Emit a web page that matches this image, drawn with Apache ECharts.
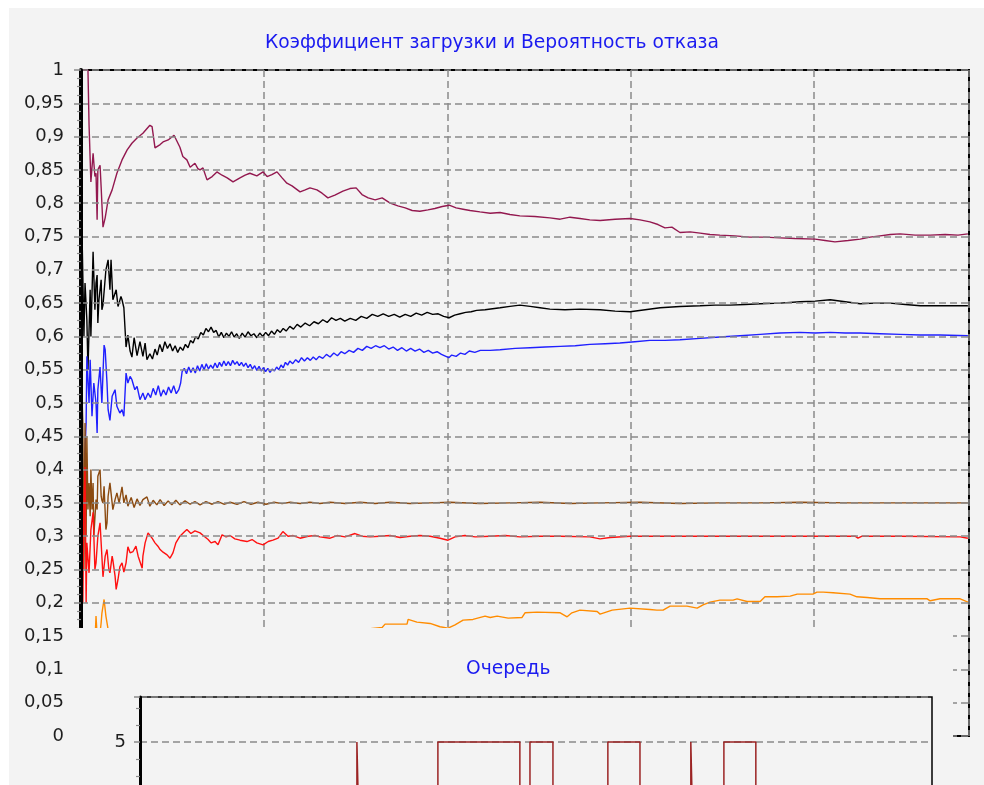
<!DOCTYPE html>
<html>
<head>
<meta charset="utf-8">
<script src="https://cdn.jsdelivr.net/npm/echarts@6/dist/echarts.min.js"></script>
<style>
html,body{margin:0;padding:0;background:#fff;}
#c{width:984px;height:785px;}
</style>
</head>
<body>
<div id="c"></div>
<script>
// ---- data (time, value) ----
const timeMax = 2424;

const seriesMaroon = [[3,1.0],[19,1.0],[22,0.917],[27,0.832],[33,0.875],[38,0.84],[41,0.845],[44,0.775],[46,0.85],[52,0.857],[55,0.824],[60,0.764],[66,0.778],[74,0.805],[85,0.82],[98,0.845],[112,0.865],[126,0.88],[139,0.89],[153,0.898],[169,0.905],[188,0.917],[194,0.915],[202,0.883],[216,0.888],[224,0.892],[238,0.895],[254,0.902],[262,0.893],[270,0.884],[278,0.87],[289,0.865],[298,0.854],[311,0.86],[319,0.852],[325,0.85],[333,0.853],[344,0.835],[358,0.84],[371,0.847],[385,0.842],[399,0.838],[415,0.832],[434,0.838],[448,0.842],[461,0.845],[480,0.841],[497,0.847],[508,0.84],[521,0.843],[535,0.847],[549,0.838],[562,0.83],[576,0.826],[598,0.817],[612,0.82],[625,0.823],[644,0.82],[658,0.815],[674,0.808],[693,0.812],[715,0.818],[734,0.822],[751,0.823],[767,0.813],[784,0.808],[803,0.805],[822,0.808],[844,0.8],[865,0.796],[885,0.793],[904,0.789],[925,0.788],[947,0.79],[966,0.792],[986,0.795],[1005,0.797],[1024,0.793],[1043,0.791],[1062,0.789],[1089,0.787],[1117,0.785],[1144,0.786],[1171,0.783],[1198,0.781],[1239,0.78],[1280,0.778],[1308,0.776],[1335,0.779],[1362,0.777],[1389,0.775],[1417,0.774],[1458,0.776],[1499,0.777],[1526,0.775],[1553,0.772],[1575,0.768],[1594,0.763],[1613,0.764],[1635,0.756],[1663,0.757],[1690,0.755],[1717,0.753],[1744,0.752],[1785,0.751],[1826,0.749],[1867,0.749],[1908,0.748],[1949,0.747],[2004,0.746],[2031,0.744],[2058,0.742],[2094,0.744],[2127,0.746],[2154,0.749],[2181,0.751],[2209,0.753],[2236,0.754],[2277,0.752],[2318,0.752],[2359,0.753],[2394,0.752],[2421,0.754]];

const seriesBlack = [[0,0.5],[3,0.75],[8,0.6],[11,0.68],[16,0.625],[19,0.55],[25,0.67],[27,0.6],[33,0.727],[38,0.64],[41,0.68],[44,0.692],[46,0.62],[49,0.655],[55,0.685],[57,0.64],[60,0.647],[68,0.7],[74,0.715],[79,0.67],[82,0.715],[87,0.655],[96,0.67],[101,0.645],[104,0.65],[109,0.66],[112,0.655],[117,0.643],[123,0.584],[128,0.602],[134,0.578],[139,0.569],[145,0.598],[153,0.571],[161,0.592],[169,0.57],[175,0.59],[180,0.565],[188,0.574],[195,0.566],[202,0.581],[208,0.572],[215,0.588],[222,0.577],[229,0.592],[236,0.582],[243,0.589],[250,0.578],[257,0.586],[264,0.576],[271,0.584],[278,0.579],[285,0.588],[292,0.583],[299,0.594],[306,0.59],[313,0.6],[320,0.596],[327,0.606],[334,0.602],[341,0.612],[348,0.607],[355,0.614],[362,0.606],[369,0.609],[376,0.599],[383,0.606],[390,0.598],[397,0.605],[404,0.6],[411,0.607],[418,0.599],[425,0.604],[432,0.597],[440,0.605],[448,0.599],[456,0.607],[464,0.601],[472,0.604],[480,0.598],[488,0.605],[496,0.6],[504,0.606],[512,0.601],[520,0.608],[528,0.603],[536,0.61],[544,0.606],[552,0.612],[560,0.608],[570,0.615],[580,0.611],[590,0.618],[600,0.614],[612,0.62],[624,0.616],[636,0.622],[648,0.619],[660,0.625],[672,0.621],[684,0.628],[696,0.624],[708,0.627],[720,0.623],[735,0.627],[750,0.624],[765,0.63],[780,0.627],[795,0.633],[810,0.63],[825,0.634],[840,0.63],[855,0.633],[870,0.629],[885,0.633],[900,0.63],[915,0.635],[930,0.632],[945,0.636],[960,0.633],[975,0.634],[990,0.63],[1005,0.628],[1020,0.632],[1035,0.634],[1050,0.636],[1065,0.637],[1080,0.639],[1103,0.64],[1144,0.643],[1171,0.645],[1198,0.647],[1226,0.645],[1253,0.643],[1280,0.641],[1321,0.64],[1362,0.641],[1417,0.64],[1458,0.638],[1499,0.637],[1540,0.64],[1581,0.643],[1635,0.645],[1690,0.646],[1731,0.647],[1772,0.647],[1813,0.648],[1854,0.649],[1908,0.65],[1963,0.652],[2004,0.653],[2045,0.655],[2086,0.652],[2127,0.649],[2168,0.65],[2209,0.65],[2250,0.648],[2291,0.646],[2331,0.646],[2372,0.646],[2421,0.646]];

const seriesBlue = [[0,0.2],[3,0.25],[8,0.39],[14,0.47],[16,0.57],[22,0.5],[25,0.565],[30,0.48],[35,0.53],[41,0.5],[44,0.455],[46,0.52],[52,0.554],[57,0.5],[63,0.587],[66,0.58],[71,0.53],[74,0.49],[79,0.474],[85,0.51],[93,0.52],[98,0.495],[106,0.485],[112,0.49],[117,0.48],[123,0.545],[128,0.53],[134,0.54],[139,0.535],[147,0.52],[153,0.525],[161,0.505],[169,0.515],[175,0.505],[183,0.515],[190,0.508],[197,0.522],[204,0.512],[211,0.526],[218,0.51],[225,0.52],[232,0.512],[239,0.524],[246,0.515],[253,0.526],[260,0.514],[267,0.52],[272,0.53],[276,0.547],[282,0.552],[288,0.544],[294,0.554],[300,0.546],[306,0.553],[312,0.545],[318,0.556],[324,0.548],[330,0.558],[336,0.55],[342,0.559],[348,0.551],[354,0.557],[360,0.552],[366,0.56],[372,0.553],[378,0.561],[384,0.555],[390,0.563],[396,0.556],[402,0.562],[408,0.556],[414,0.564],[420,0.558],[426,0.562],[432,0.556],[438,0.561],[444,0.555],[450,0.56],[456,0.553],[462,0.558],[468,0.551],[474,0.556],[480,0.549],[486,0.555],[492,0.548],[498,0.553],[504,0.547],[510,0.552],[516,0.546],[522,0.551],[528,0.548],[534,0.554],[540,0.55],[546,0.557],[552,0.553],[558,0.561],[564,0.557],[570,0.563],[578,0.559],[586,0.565],[594,0.561],[602,0.568],[610,0.563],[618,0.568],[626,0.564],[634,0.569],[642,0.565],[650,0.57],[660,0.567],[670,0.573],[680,0.569],[690,0.575],[700,0.571],[710,0.577],[720,0.574],[732,0.579],[744,0.576],[756,0.582],[768,0.579],[780,0.585],[792,0.582],[804,0.586],[816,0.583],[828,0.586],[840,0.581],[852,0.584],[864,0.579],[876,0.583],[888,0.578],[900,0.582],[912,0.578],[924,0.581],[936,0.576],[948,0.579],[960,0.575],[972,0.577],[984,0.573],[996,0.57],[1004,0.568],[1012,0.572],[1024,0.57],[1036,0.575],[1048,0.573],[1060,0.578],[1075,0.576],[1090,0.579],[1117,0.579],[1144,0.58],[1185,0.582],[1226,0.583],[1267,0.584],[1308,0.585],[1349,0.586],[1389,0.588],[1431,0.589],[1471,0.59],[1512,0.592],[1553,0.594],[1594,0.594],[1635,0.595],[1690,0.597],[1744,0.599],[1799,0.601],[1854,0.603],[1908,0.605],[1963,0.606],[2004,0.605],[2045,0.606],[2086,0.605],[2127,0.605],[2181,0.604],[2236,0.603],[2291,0.602],[2345,0.602],[2421,0.601]];

const seriesBrown = [[0,0.71],[3,0.505],[5,0.47],[8,0.25],[11,0.47],[14,0.3],[16,0.45],[19,0.34],[22,0.38],[25,0.33],[27,0.4],[30,0.34],[33,0.38],[35,0.3],[41,0.355],[44,0.34],[46,0.39],[52,0.4],[55,0.36],[57,0.354],[60,0.35],[63,0.375],[68,0.31],[71,0.32],[74,0.36],[79,0.38],[82,0.377],[87,0.34],[93,0.355],[98,0.365],[104,0.35],[112,0.374],[117,0.35],[123,0.362],[128,0.345],[137,0.358],[145,0.343],[153,0.356],[161,0.346],[169,0.355],[180,0.359],[188,0.345],[197,0.354],[207,0.347],[216,0.355],[227,0.346],[238,0.353],[248,0.347],[259,0.354],[270,0.347],[284,0.353],[298,0.348],[311,0.352],[325,0.347],[341,0.352],[358,0.348],[374,0.352],[390,0.348],[407,0.351],[426,0.348],[445,0.352],[464,0.348],[483,0.351],[505,0.348],[527,0.351],[549,0.349],[571,0.351],[598,0.349],[625,0.351],[652,0.349],[680,0.351],[721,0.349],[762,0.351],[803,0.349],[844,0.351],[898,0.349],[953,0.35],[1007,0.351],[1089,0.349],[1171,0.35],[1253,0.351],[1335,0.349],[1417,0.35],[1526,0.351],[1635,0.349],[1744,0.35],[1854,0.35],[1963,0.351],[2099,0.35],[2236,0.35],[2421,0.35]];

const seriesRed = [[0,0.0],[3,0.41],[5,0.2],[8,0.35],[11,0.404],[14,0.2],[16,0.29],[22,0.245],[27,0.31],[33,0.336],[38,0.25],[41,0.26],[46,0.3],[52,0.32],[57,0.27],[60,0.239],[66,0.27],[71,0.28],[76,0.25],[79,0.245],[85,0.27],[87,0.264],[93,0.24],[96,0.22],[101,0.235],[106,0.254],[112,0.26],[117,0.246],[123,0.26],[128,0.284],[134,0.275],[142,0.277],[150,0.285],[156,0.27],[161,0.272],[167,0.252],[169,0.27],[175,0.29],[183,0.305],[188,0.307],[194,0.297],[202,0.29],[210,0.285],[216,0.28],[224,0.276],[235,0.272],[243,0.267],[251,0.275],[259,0.29],[270,0.3],[281,0.306],[289,0.31],[300,0.304],[311,0.308],[325,0.305],[336,0.3],[347,0.295],[355,0.29],[366,0.292],[374,0.287],[385,0.302],[396,0.299],[407,0.301],[420,0.296],[434,0.294],[453,0.292],[467,0.295],[480,0.29],[497,0.287],[511,0.292],[524,0.294],[538,0.297],[551,0.307],[565,0.3],[579,0.301],[598,0.297],[620,0.3],[639,0.301],[652,0.299],[680,0.297],[699,0.301],[721,0.299],[748,0.304],[767,0.3],[789,0.299],[816,0.3],[844,0.301],[871,0.298],[898,0.3],[925,0.301],[953,0.3],[980,0.297],[1002,0.294],[1021,0.299],[1048,0.301],[1076,0.299],[1117,0.3],[1158,0.301],[1198,0.299],[1253,0.3],[1308,0.3],[1389,0.299],[1417,0.296],[1444,0.298],[1499,0.3],[1581,0.3],[1663,0.3],[1744,0.3],[1854,0.3],[1963,0.3],[2113,0.3],[2121,0.297],[2132,0.3],[2236,0.3],[2400,0.299],[2405,0.297],[2421,0.297]];

const seriesOrange = [[25,0.05],[33,0.1],[38,0.14],[41,0.18],[44,0.15],[49,0.14],[55,0.17],[57,0.184],[63,0.205],[68,0.18],[74,0.16],[82,0.13],[134,0.12],[325,0.13],[598,0.15],[822,0.163],[824,0.164],[830,0.168],[890,0.168],[893,0.175],[917,0.171],[953,0.169],[980,0.164],[1002,0.162],[1021,0.167],[1043,0.174],[1070,0.175],[1103,0.18],[1117,0.178],[1136,0.18],[1166,0.177],[1204,0.178],[1212,0.185],[1245,0.186],[1308,0.185],[1327,0.179],[1340,0.185],[1362,0.189],[1409,0.187],[1417,0.183],[1450,0.189],[1499,0.192],[1553,0.19],[1572,0.189],[1589,0.189],[1608,0.195],[1654,0.195],[1682,0.192],[1698,0.197],[1717,0.201],[1744,0.204],[1780,0.204],[1791,0.206],[1818,0.202],[1854,0.202],[1867,0.209],[1900,0.209],[1936,0.21],[1955,0.213],[1998,0.213],[2009,0.216],[2026,0.216],[2053,0.215],[2099,0.213],[2118,0.209],[2146,0.208],[2181,0.206],[2310,0.206],[2318,0.203],[2345,0.206],[2400,0.206],[2421,0.201]];

// queue chart: [time, queue length] change points
const queueMax = 4860;
const queueData = [[0,0],[1331,5],[1343,0],[1828,5],[2331,0],[2393,5],[2534,0],[2871,5],[3068,0],[3380,5],[3392,0],[3583,5],[3779,0],[4860,0]];
const queueGridT = [675, 1675, 2675, 3675, 4675];
const queueTickLabels = [5];

const titleMain = 'Коэффициент загрузки и Вероятность отказа';
const titleQueue = 'Очередь';

// ---- styles ----
const BG = '#f3f3f3';
const GRIDC = '#8a8a8a';
const FONT = 'DejaVu Sans';
const dash = [7, 4];

function fmt(v) { return String(Number(v.toFixed(2))).replace('.', ','); }

function lineSeries(name, data, color) {
  return { name, type: 'line', xAxisIndex: 0, yAxisIndex: 0, data, showSymbol: false, symbol: 'none',
    lineStyle: { color, width: 1.4 }, itemStyle: { color }, animation: false, z: 2 };
}

const chart = echarts.init(document.getElementById('c'), null, { renderer: 'canvas' });
chart.setOption({
  backgroundColor: BG,
  animation: false,
  title: [
    { text: titleMain, left: 'center', top: 34, padding: 0,
      textStyle: { color: '#1a1af0', fontFamily: FONT, fontSize: 18.7, fontWeight: 'normal' } },
    { text: titleQueue, left: 466, top: 660, padding: 0, z: 60,
      textStyle: { color: '#1a1af0', fontFamily: FONT, fontSize: 18.7, fontWeight: 'normal' } }
  ],
  grid: [
    { left: 81, top: 70, width: 888, height: 666, show: true, borderColor: '#000', borderWidth: 2, backgroundColor: 'transparent' },
    { left: 140, top: 697, width: 792, height: 130, show: true, borderColor: '#000', borderWidth: 1.5, backgroundColor: 'transparent', z: 55, outerBoundsMode: 'none' }
  ],
  xAxis: [
    { type: 'value', gridIndex: 0, min: 0, max: timeMax, interval: 500,
      axisLine: { show: false }, axisTick: { show: false }, axisLabel: { show: false },
      splitLine: { show: true, lineStyle: { color: GRIDC, width: 1.5, type: dash } } },
    { type: 'value', gridIndex: 1, min: 0, max: queueMax, z: 60,
      axisLine: { show: false }, axisTick: { show: false }, axisLabel: { show: false },
      splitLine: { show: false } }
  ],
  yAxis: [
    { type: 'value', gridIndex: 0, min: 0, max: 1, interval: 0.05, z: 3,
      axisLine: { show: true, lineStyle: { color: '#000', width: 4 } },
      axisTick: { show: true, length: 7, lineStyle: { color: GRIDC, width: 1.5 } },
      minorTick: { show: true, splitNumber: 4, length: 4, lineStyle: { color: GRIDC, width: 1.2 } },
      axisLabel: { color: '#1e1e1e', fontFamily: FONT, fontSize: 18, margin: 17, formatter: fmt },
      splitLine: { show: true, lineStyle: { color: GRIDC, width: 1.5, type: dash } } },
    { type: 'value', gridIndex: 1, min: 0, max: 7.65, interval: 5, z: 60,
      axisLine: { show: true, lineStyle: { color: '#000', width: 3 } },
      axisTick: { show: true, length: 6, lineStyle: { color: GRIDC, width: 1.5 } },
      minorTick: { show: true, splitNumber: 5, length: 4, lineStyle: { color: GRIDC, width: 1.2 } },
      axisLabel: { color: '#1e1e1e', fontFamily: FONT, fontSize: 18, margin: 14,
        formatter: v => queueTickLabels.indexOf(v) >= 0 ? String(v) : '' },
      splitLine: { show: true, lineStyle: { color: GRIDC, width: 1.5, type: dash } } }
  ],
  graphic: [
    { type: 'rect', z: 50, silent: true, shape: { x: 74, y: 628, width: 879, height: 160 }, style: { fill: BG } },
    { type: 'rect', z: 100, silent: true, shape: { x: 0, y: 0, width: 984, height: 8 }, style: { fill: '#ffffff' } },
    { type: 'rect', z: 100, silent: true, shape: { x: 0, y: 0, width: 9, height: 785 }, style: { fill: '#ffffff' } }
  ],
  series: [
    lineSeries('Коэффициент загрузки 1', seriesMaroon, '#93184f'),
    lineSeries('Коэффициент загрузки 2', seriesBlack, '#000000'),
    lineSeries('Коэффициент загрузки 3', seriesBlue, '#2020ff'),
    lineSeries('Вероятность отказа 1', seriesBrown, '#8b4a10'),
    lineSeries('Вероятность отказа 2', seriesRed, '#ff1010'),
    lineSeries('Вероятность отказа 3', seriesOrange, '#ff8c00'),
    { name: 'Очередь', type: 'line', xAxisIndex: 1, yAxisIndex: 1, step: 'end', data: queueData,
      showSymbol: false, symbol: 'none', z: 62, animation: false,
      lineStyle: { color: '#9b2323', width: 1.5 },
      markLine: { silent: true, symbol: 'none', label: { show: false }, animation: false,
        lineStyle: { color: GRIDC, width: 1.5, type: dash },
        data: queueGridT.map(t => ({ xAxis: t })) } }
  ]
});
</script>
</body>
</html>
